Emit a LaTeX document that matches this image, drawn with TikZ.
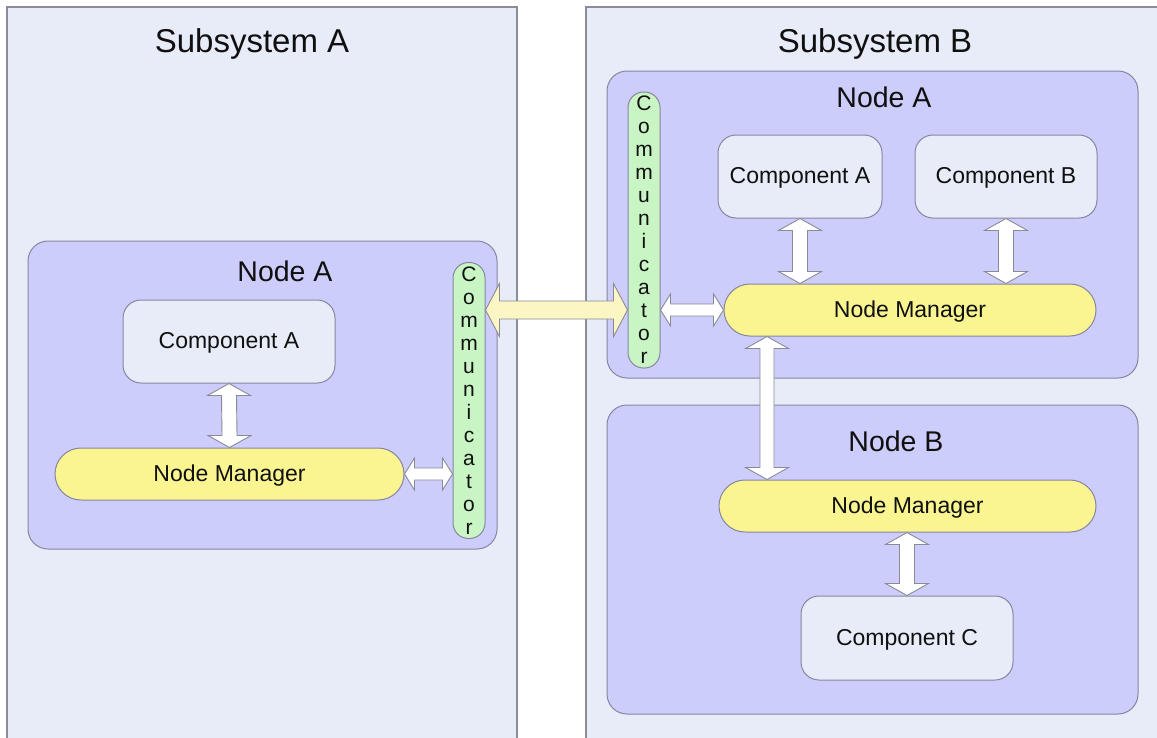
\documentclass[tikz,border=0pt]{standalone}
\usepackage{fontspec}
\setmainfont{Liberation Sans}
\usetikzlibrary{calc,shapes.misc}
\definecolor{subfill}{HTML}{E8ECF8}
\definecolor{subline}{HTML}{8C8C98}
\definecolor{nodefill}{HTML}{CDCDFC}
\definecolor{nodeline}{HTML}{8686A0}
\definecolor{compfill}{HTML}{E8ECF8}
\definecolor{mgrfill}{HTML}{FAF590}
\definecolor{commfill}{HTML}{C9F5C4}
\definecolor{bigfill}{HTML}{FCF5C4}
\definecolor{arrline}{HTML}{8A8A96}
\definecolor{txt}{HTML}{101010}
% vertical double arrow: style, top point, bottom point, shaft half width, head half width, head length
\newcommand\dblarrowV[6]{%
  \draw[#1] (#2) -- ++(#5,#6) -- ++(#4-#5,0) -- ($(#3)+(#4,-#6)$) -- ++(#5-#4,0) -- (#3)
    -- ++(-#5,-#6) -- ++(#5-#4,0) -- ($(#2)+(-#4,#6)$) -- ++(#4-#5,0) -- cycle;}
% horizontal double arrow: style, left point, right point, shaft half width, head half width, head length
\newcommand\dblarrowH[6]{%
  \draw[#1] (#2) -- ++(#6,-#5) -- ++(0,#5-#4) -- ($(#3)+(-#6,-#4)$) -- ++(0,#4-#5) -- (#3)
    -- ++(-#6,#5) -- ++(0,#4-#5) -- ($(#2)+(#6,#4)$) -- ++(0,#5-#4) -- cycle;}
\begin{document}
\begin{tikzpicture}[x=1pt,y=-1pt,
  subbox/.style={fill=subfill,draw=subline,line width=1.2pt},
  nodebox/.style={rectangle,rounded corners=20pt,fill=nodefill,draw=nodeline,line width=1pt,inner sep=0pt},
  boxtext/.style={text=txt,font=\fontsize{23}{26}\selectfont,text height=16pt,text depth=2pt},
  compbox/.style={rectangle,rounded corners=18pt,fill=compfill,draw=nodeline,line width=1pt,inner sep=0pt,
    minimum height=83pt,boxtext},
  mgrbox/.style={rounded rectangle,fill=mgrfill,draw=nodeline,line width=1pt,inner sep=0pt,
    minimum height=52pt,boxtext},
  commbox/.style={rectangle,rounded corners=15.5pt,fill=commfill,draw=nodeline,line width=1pt,inner sep=0pt,
    minimum width=32pt,align=center,text=txt,font=\fontsize{21}{23}\selectfont},
  title/.style={text=txt,inner sep=0pt,anchor=base},
  warrow/.style={fill=white,draw=arrline,line width=0.9pt,line join=miter},
  barrow/.style={fill=bigfill,draw=arrline,line width=0.9pt,line join=miter}
]
\useasboundingbox (0,0) rectangle (1157,737);
\fill[white] (0,0) rectangle (1157,737);
% subsystems
\fill[subfill] (7,7) rectangle (517,745);
\draw[subline,line width=1.2pt] (7,745) -- (7,7) -- (517,7) -- (517,745);
\fill[subfill] (586,7) rectangle (1165,745);
\draw[subline,line width=1.2pt] (586,745) -- (586,7) -- (1165,7);
\node[title,font=\fontsize{33}{38}\selectfont] (tA) at (252,52) {Subsystem A};
\node[title,font=\fontsize{33}{38}\selectfont] (tB) at (875,52) {Subsystem B};
% Subsystem A, Node A
\node[nodebox,minimum width=469pt,minimum height=308pt] (nA1) at (262.5,395) {};
\node[title,font=\fontsize{28.5}{32}\selectfont] (nA1t) at (285,281) {Node A};
\node[compbox,minimum width=212pt] (cA1) at (229,341.5) {Component A};
\node[mgrbox,minimum width=349pt] (nm1) at (229.5,474) {Node Manager};
\node[commbox,minimum height=276pt] (comm1) at (469,400.5) {C\\o\\m\\m\\u\\n\\i\\c\\a\\t\\o\\r};
% Subsystem B, Node A
\node[nodebox,minimum width=531pt,minimum height=307pt] (nA2) at (872.5,224.5) {};
\node[title,font=\fontsize{28.5}{32}\selectfont] (nA2t) at (884,107) {Node A};
\node[commbox,minimum height=276pt] (comm2) at (644,230) {C\\o\\m\\m\\u\\n\\i\\c\\a\\t\\o\\r};
\node[compbox,minimum width=164pt] (cA2) at (800,176.5) {Component A};
\node[compbox,minimum width=182pt] (cB) at (1006,176.5) {Component B};
\node[mgrbox,minimum width=372pt] (nm2) at (910,310) {Node Manager};
% Subsystem B, Node B
\node[nodebox,minimum width=531pt,minimum height=309pt] (nB) at (872.5,559.5) {};
\node[title,font=\fontsize{28.5}{32}\selectfont] (nBt) at (896,451) {Node B};
\node[mgrbox,minimum width=377pt] (nmB) at (907.5,506) {Node Manager};
\node[compbox,minimum width=212pt,minimum height=84pt] (cC) at (907,638) {Component C};
\coordinate (lx) at (767,0);
% arrows
\dblarrowV{warrow}{cA1.south}{nm1.north}{7.5}{21.5}{12}
\dblarrowH{warrow}{nm1.east}{comm1.west |- nm1.east}{6}{16}{10}
\dblarrowH{barrow}{comm1.east |- nm2.west}{comm2.west |- nm2.west}{9}{26.5}{14}
\dblarrowH{warrow}{comm2.east |- nm2.west}{nm2.west}{6}{16}{10}
\dblarrowV{warrow}{cA2.south}{cA2.south |- nm2.north}{7.5}{21.5}{12}
\dblarrowV{warrow}{cB.south}{cB.south |- nm2.north}{7.5}{21.5}{12}
\dblarrowV{warrow}{nm2.south -| lx}{nmB.north -| lx}{7}{21.5}{12}
\dblarrowV{warrow}{nmB.south -| cC.north}{cC.north}{7.5}{21.5}{12}
\end{tikzpicture}
\end{document}
